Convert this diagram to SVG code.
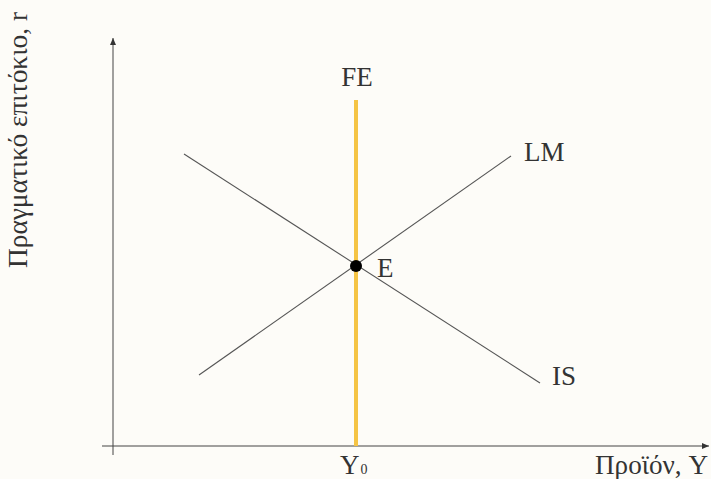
<svg xmlns="http://www.w3.org/2000/svg" width="711" height="479" viewBox="0 0 711 479">
<style>
.lbl{font-family:"Liberation Serif","DejaVu Serif",serif;fill:#333;font-size:27px}
.ax{stroke:#444;stroke-width:1;fill:none}
.curve{stroke:#555;stroke-width:1.1;fill:none}
</style>
<defs>
<marker id="arr" markerWidth="8" markerHeight="8" refX="7" refY="4" orient="auto" markerUnits="userSpaceOnUse">
<path d="M0,1 L7,4 L0,7 z" fill="#333"/>
</marker>
</defs>
<rect width="711" height="479" fill="#fdfcf8"/>
<g id="axes">
<line class="ax" x1="113" y1="455" x2="113" y2="38" marker-end="url(#arr)"/>
<line class="ax" x1="102" y1="446" x2="709" y2="446" marker-end="url(#arr)"/>
</g>
<g id="connectors">
<line class="curve" x1="184" y1="154" x2="540" y2="383"/>
<line class="curve" x1="199" y1="375" x2="511" y2="156"/>
<line x1="356" y1="100" x2="356" y2="446" stroke="#f5c445" stroke-width="4"/>
</g>
<g id="E"><circle cx="356" cy="266" r="6" fill="#000"/><text class="lbl" x="377" y="277">E</text></g>
<g id="FE"><text class="lbl" x="357" y="86" text-anchor="middle">FE</text></g>
<g id="LM"><text class="lbl" x="524" y="161">LM</text></g>
<g id="IS"><text class="lbl" x="552" y="385">IS</text></g>
<g id="Y0"><text class="lbl" x="340" y="474">Y<tspan font-size="14" dx="1">0</tspan></text></g>
<g id="xlabel"><text class="lbl" x="595" y="474" font-size="26" textLength="113" lengthAdjust="spacingAndGlyphs">Προϊόν, Y</text></g>
<g id="ylabel"><text class="lbl" font-size="26" textLength="256" lengthAdjust="spacingAndGlyphs" transform="translate(27,268) rotate(-90)">Πραγματικό επιτόκιο, r</text></g>
</svg>
